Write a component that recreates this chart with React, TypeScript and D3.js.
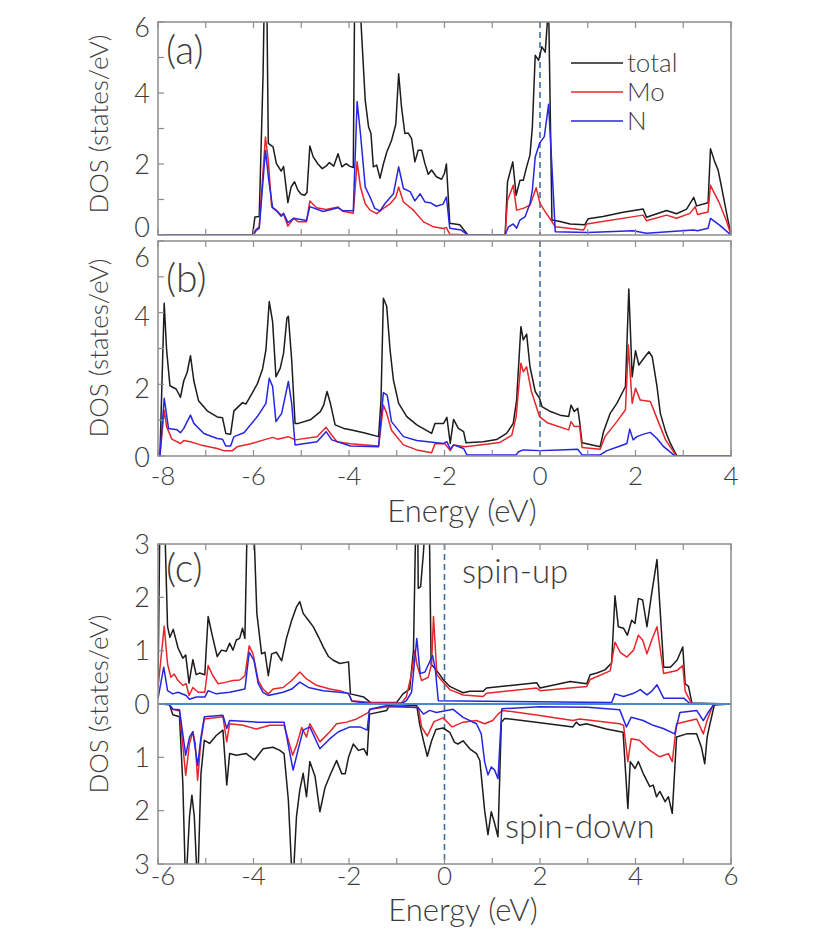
import React from "react";
import * as d3 from "d3";

type Pt = [number, number];

// panel (a): energy (eV), DOS (states/eV)
const aTotal: Pt[] = [[-8,0],[-6.02,0],[-5.97,0.51],[-5.88,0.52],[-5.8,4.5],[-5.77,7],[-5.72,6.5],[-5.69,2.58],[-5.59,2.48],[-5.52,2.01],[-5.42,1.8],[-5.37,1.93],[-5.28,0.91],[-5.21,1.36],[-5.14,1.5],[-5.07,1.26],[-5.0,1.15],[-4.93,1.12],[-4.88,1.2],[-4.82,2.51],[-4.75,2.2],[-4.65,2.0],[-4.56,1.87],[-4.48,1.94],[-4.41,2.04],[-4.32,1.94],[-4.23,2.29],[-4.15,1.92],[-4.06,2.01],[-3.99,1.94],[-3.91,1.9],[-3.88,7],[-3.79,7],[-3.66,3.79],[-3.59,3.04],[-3.54,2.86],[-3.49,1.92],[-3.42,1.97],[-3.35,1.6],[-3.28,2.0],[-3.21,2.33],[-3.11,2.66],[-3.02,3.12],[-2.96,4.54],[-2.9,3.6],[-2.83,2.86],[-2.76,2.87],[-2.69,2.72],[-2.62,2.06],[-2.55,2.39],[-2.48,2.39],[-2.41,2.01],[-2.34,1.71],[-2.27,1.83],[-2.17,1.64],[-2.06,1.57],[-2.0,1.74],[-1.96,2.0],[-1.89,0.33],[-1.68,0.29],[-1.51,0],[-0.73,0],[-0.68,1.5],[-0.57,2.06],[-0.5,1.12],[-0.42,1.54],[-0.35,1.54],[-0.28,1.92],[-0.21,2.25],[-0.16,3.04],[-0.1,5.06],[-0.03,4.92],[0.04,5.3],[0.11,5.15],[0.18,6.5],[0.25,0.42],[0.42,0.38],[0.63,0.31],[0.94,0.29],[1.01,0.46],[1.32,0.52],[1.74,0.64],[2.16,0.73],[2.23,0.5],[2.65,0.69],[2.86,0.6],[3.07,0.73],[3.22,1.06],[3.28,0.82],[3.52,0.91],[3.57,2.43],[3.66,2.06],[3.73,1.83],[3.78,1.5],[3.91,0.6],[4.0,0]];
const aMo: Pt[] = [[-8,0],[-6.02,0],[-5.96,0.14],[-5.88,0.23],[-5.75,2.76],[-5.69,2.1],[-5.62,0.79],[-5.52,0.7],[-5.42,0.56],[-5.37,0.59],[-5.28,0.25],[-5.16,0.47],[-5.06,0.37],[-4.89,0.37],[-4.82,0.96],[-4.68,0.77],[-4.48,0.72],[-4.23,0.79],[-4.13,0.67],[-3.91,0.61],[-3.83,2.06],[-3.76,1.35],[-3.66,0.88],[-3.56,0.7],[-3.42,0.6],[-3.28,0.75],[-3.14,0.88],[-3.02,1.07],[-2.96,1.35],[-2.86,0.93],[-2.65,0.7],[-2.44,0.37],[-2.23,0.23],[-2.03,0.18],[-1.96,0.21],[-1.89,0.02],[-1.5,0],[-0.73,0],[-0.68,0.98],[-0.56,1.4],[-0.49,0.7],[-0.35,0.75],[-0.21,0.84],[-0.08,1.33],[0.0,0.89],[0.11,0.65],[0.25,0.38],[0.32,0.23],[0.91,0.14],[0.98,0.31],[2.16,0.56],[2.23,0.4],[2.65,0.56],[2.86,0.47],[3.14,0.61],[3.25,0.8],[3.3,0.58],[3.52,0.65],[3.57,1.4],[3.76,0.89],[3.91,0.38],[4.0,0]];
const aN: Pt[] = [[-8,0],[-6.0,0],[-5.94,0.14],[-5.88,0.19],[-5.75,2.39],[-5.68,1.54],[-5.6,0.77],[-5.52,0.68],[-5.42,0.53],[-5.37,0.61],[-5.28,0.35],[-5.16,0.47],[-4.89,0.41],[-4.82,0.8],[-4.54,0.66],[-4.23,0.77],[-4.13,0.68],[-3.91,0.68],[-3.83,3.76],[-3.76,2.86],[-3.66,1.35],[-3.56,1.07],[-3.46,0.75],[-3.35,0.68],[-3.25,0.88],[-3.07,1.16],[-2.96,1.92],[-2.86,1.31],[-2.72,1.22],[-2.62,0.96],[-2.51,1.16],[-2.41,0.93],[-2.3,0.91],[-2.17,0.81],[-2.03,0.87],[-1.96,1.07],[-1.89,0.19],[-1.65,0.14],[-1.51,0],[-0.73,0],[-0.66,0.23],[-0.56,0.31],[-0.49,0.19],[-0.42,0.42],[-0.31,0.52],[-0.21,0.89],[-0.16,1.26],[-0.1,2.2],[-0.01,2.58],[0.09,2.77],[0.18,3.68],[0.25,1.92],[0.32,0.09],[1.0,0.07],[1.95,0.12],[2.23,0.05],[3.21,0.14],[3.3,0.12],[3.52,0.19],[3.57,0.47],[3.76,0.28],[4.0,0]];

// panel (b)
const bTotal: Pt[] = [[-8,0],[-7.96,0],[-7.87,4.26],[-7.82,2.96],[-7.75,1.96],[-7.62,1.87],[-7.53,1.64],[-7.46,2.1],[-7.39,2.33],[-7.32,2.8],[-7.25,2.1],[-7.15,1.54],[-6.97,1.26],[-6.76,1.09],[-6.65,1.07],[-6.58,0.63],[-6.48,0.61],[-6.41,1.26],[-6.3,1.4],[-6.23,1.49],[-6.16,1.45],[-6.06,1.68],[-5.92,2.01],[-5.81,2.43],[-5.74,2.96],[-5.67,4.31],[-5.6,3.75],[-5.53,2.21],[-5.44,2.45],[-5.37,2.87],[-5.3,3.85],[-5.27,3.9],[-5.2,2.68],[-5.13,0.91],[-5.06,0.91],[-4.81,1.01],[-4.6,1.24],[-4.53,1.42],[-4.46,1.8],[-4.39,1.47],[-4.29,0.87],[-4.11,0.77],[-3.97,0.73],[-3.69,0.65],[-3.38,0.54],[-3.33,1.56],[-3.28,4.4],[-3.21,4.17],[-3.14,2.96],[-3.07,2.12],[-2.96,1.47],[-2.79,1.1],[-2.58,0.87],[-2.27,0.63],[-2.2,0.91],[-2.02,0.91],[-1.95,1.08],[-1.88,0.35],[-1.81,1.02],[-1.71,0.77],[-1.6,0.68],[-1.55,0.37],[-1.19,0.4],[-0.91,0.46],[-0.7,0.63],[-0.56,0.91],[-0.49,1.56],[-0.4,3.61],[-0.35,3.24],[-0.28,3.4],[-0.21,2.49],[-0.1,1.8],[-0.01,1.61],[0.04,1.38],[0.22,1.24],[0.42,1.14],[0.6,1.1],[0.65,1.42],[0.72,1.24],[0.79,1.33],[0.83,0.96],[0.88,0.37],[1.26,0.26],[1.33,0.68],[1.47,1.19],[1.61,1.47],[1.79,1.94],[1.86,4.66],[1.93,2.21],[2.0,2.94],[2.07,2.54],[2.17,2.72],[2.28,2.91],[2.35,2.77],[2.45,1.94],[2.52,1.19],[2.63,0.68],[2.73,0.35],[2.84,0.07],[2.87,0],[4,0]];
const bMo: Pt[] = [[-8,0],[-7.96,0],[-7.87,1.28],[-7.82,0.82],[-7.71,0.47],[-7.53,0.35],[-7.46,0.43],[-7.32,0.4],[-7.11,0.31],[-6.76,0.21],[-6.62,0.15],[-6.44,0.15],[-6.34,0.26],[-6.06,0.34],[-5.78,0.45],[-5.6,0.52],[-5.5,0.47],[-5.27,0.54],[-5.13,0.45],[-4.67,0.54],[-4.48,0.8],[-4.36,0.58],[-4.25,0.4],[-3.97,0.34],[-3.38,0.28],[-3.28,1.42],[-3.21,1.19],[-3.11,0.72],[-2.86,0.31],[-2.58,0.17],[-2.27,0.09],[-2.2,0.34],[-1.99,0.34],[-1.88,0.15],[-1.81,0.31],[-1.57,0.26],[-1.26,0.31],[-0.84,0.38],[-0.59,0.58],[-0.5,1.1],[-0.4,2.59],[-0.35,2.35],[-0.28,2.49],[-0.18,1.8],[-0.01,1.1],[0.15,0.93],[0.6,0.73],[0.65,0.96],[0.72,0.82],[0.83,0.82],[0.88,0.24],[1.26,0.19],[1.36,0.54],[1.61,0.96],[1.79,1.29],[1.85,3.1],[1.93,1.47],[2.0,1.89],[2.1,1.56],[2.31,1.52],[2.45,1.05],[2.63,0.45],[2.84,0.03],[2.87,0],[4,0]];
const bN: Pt[] = [[-8,0],[-7.96,0],[-7.87,1.61],[-7.78,0.77],[-7.6,0.73],[-7.53,0.65],[-7.46,0.77],[-7.32,1.14],[-7.25,0.91],[-7.04,0.63],[-6.76,0.49],[-6.65,0.47],[-6.58,0.28],[-6.48,0.28],[-6.41,0.54],[-6.2,0.65],[-5.92,1.1],[-5.74,1.47],[-5.67,2.17],[-5.6,1.94],[-5.53,0.96],[-5.41,1.19],[-5.27,2.08],[-5.2,1.47],[-5.13,0.31],[-4.67,0.4],[-4.48,0.68],[-4.36,0.45],[-3.97,0.28],[-3.38,0.26],[-3.28,1.77],[-3.2,1.7],[-3.11,0.96],[-2.86,0.54],[-2.58,0.43],[-2.02,0.35],[-1.95,0.4],[-1.88,0.19],[-1.81,0.31],[-1.6,0.21],[-1.53,0.03],[-0.5,0.03],[-0.45,0.12],[-0.35,0.17],[0.0,0.15],[0.4,0.17],[0.79,0.19],[0.88,0.03],[1.26,0.03],[1.4,0.15],[1.68,0.28],[1.82,0.35],[1.88,0.75],[1.95,0.45],[2.03,0.54],[2.17,0.61],[2.31,0.66],[2.45,0.49],[2.59,0.26],[2.8,0.03],[2.87,0],[4,0]];

// panel (c), spin-up (positive)
const upTotal: Pt[] = [[-6,0.3],[-5.96,3.5],[-5.88,3.5],[-5.85,3.1],[-5.8,1.45],[-5.75,1.25],[-5.68,1.4],[-5.58,1.05],[-5.48,0.86],[-5.42,0.92],[-5.35,0.39],[-5.27,0.83],[-5.2,0.55],[-5.13,0.58],[-5.02,0.55],[-4.95,1.64],[-4.85,1.23],[-4.76,0.89],[-4.67,1.01],[-4.57,0.99],[-4.5,1.14],[-4.43,1.01],[-4.36,1.2],[-4.29,1.23],[-4.23,1.42],[-4.18,1.23],[-4.13,3.5],[-4.0,3.5],[-3.93,1.7],[-3.83,0.94],[-3.76,0.97],[-3.69,0.53],[-3.62,0.94],[-3.52,0.97],[-3.41,0.81],[-3.31,1.23],[-3.2,1.57],[-3.1,1.82],[-3.03,1.92],[-2.96,1.7],[-2.85,1.57],[-2.75,1.45],[-2.64,1.26],[-2.54,1.07],[-2.43,0.89],[-2.33,0.82],[-2.19,0.76],[-2.01,0.79],[-1.97,0.19],[-1.69,0.13],[-1.55,0.03],[-1.0,0.03],[-0.87,0.19],[-0.73,0.28],[-0.65,1.0],[-0.6,3.5],[-0.56,3.3],[-0.55,2.17],[-0.5,2.2],[-0.44,2.85],[-0.4,3.5],[-0.32,3.5],[-0.28,0.74],[-0.21,0.68],[-0.1,0.55],[-0.03,0.46],[0.11,0.33],[0.25,0.27],[0.39,0.21],[0.53,0.24],[0.81,0.24],[0.88,0.3],[1.93,0.4],[2.0,0.3],[2.63,0.42],[2.98,0.38],[3.05,0.55],[3.19,0.58],[3.36,0.64],[3.5,0.77],[3.57,2.03],[3.64,1.45],[3.75,1.42],[3.83,1.29],[3.92,1.57],[3.99,1.51],[4.06,1.98],[4.15,1.95],[4.24,1.45],[4.34,2.08],[4.45,2.71],[4.52,1.7],[4.59,0.69],[4.73,0.69],[4.87,0.82],[4.99,1.07],[5.04,0.38],[5.11,0.33],[5.18,0.02],[6,0]];
const upMo: Pt[] = [[-6,0.3],[-5.87,1.46],[-5.8,0.75],[-5.73,0.5],[-5.66,0.56],[-5.58,0.44],[-5.48,0.35],[-5.41,0.38],[-5.35,0.16],[-5.27,0.31],[-5.16,0.22],[-5.02,0.22],[-4.95,0.72],[-4.85,0.53],[-4.74,0.38],[-4.57,0.41],[-4.43,0.44],[-4.29,0.45],[-4.18,0.53],[-4.09,1.09],[-4.01,0.94],[-3.9,0.44],[-3.8,0.28],[-3.69,0.19],[-3.59,0.28],[-3.38,0.31],[-3.2,0.44],[-3.03,0.6],[-2.89,0.47],[-2.68,0.35],[-2.4,0.28],[-2.19,0.25],[-2.01,0.19],[-1.94,0.06],[-1.55,0.03],[-0.9,0.02],[-0.8,0.13],[-0.69,0.57],[-0.62,1.01],[-0.58,0.75],[-0.48,0.44],[-0.34,0.5],[-0.27,0.75],[-0.23,1.64],[-0.16,0.55],[-0.06,0.44],[0.11,0.27],[0.39,0.17],[0.81,0.14],[0.88,0.2],[1.93,0.3],[2.0,0.25],[2.98,0.33],[3.05,0.46],[3.47,0.62],[3.57,1.16],[3.68,0.97],[3.82,0.88],[3.96,1.01],[4.06,1.29],[4.15,1.2],[4.24,0.94],[4.34,1.2],[4.45,1.45],[4.59,0.57],[4.87,0.63],[4.99,0.72],[5.04,0.24],[5.18,0],[6,0]];
const upN: Pt[] = [[-6,0.1],[-5.88,0.69],[-5.8,0.25],[-5.69,0.19],[-5.58,0.22],[-5.41,0.16],[-5.34,0.09],[-5.2,0.13],[-5.02,0.13],[-4.95,0.25],[-4.78,0.19],[-4.5,0.22],[-4.18,0.28],[-4.09,0.97],[-3.99,0.82],[-3.9,0.38],[-3.8,0.22],[-3.69,0.16],[-3.38,0.22],[-3.2,0.28],[-3.03,0.41],[-2.85,0.31],[-2.54,0.25],[-2.19,0.22],[-2.01,0.2],[-1.94,0.05],[-1.55,0.01],[-0.9,0.01],[-0.8,0.06],[-0.69,0.22],[-0.58,1.23],[-0.51,0.57],[-0.41,0.6],[-0.25,0.91],[-0.19,0.63],[-0.13,0.06],[3.5,0.03],[3.57,0.19],[3.75,0.14],[3.96,0.2],[4.1,0.27],[4.24,0.17],[4.34,0.24],[4.45,0.36],[4.59,0.11],[5.01,0.11],[5.15,0],[6,0]];

// panel (c), spin-down (magnitudes, drawn below zero)
const downTotal: Pt[] = [[-6,0],[-5.76,0.01],[-5.69,0.2],[-5.55,0.24],[-5.48,1.49],[-5.42,3.5],[-5.34,2.11],[-5.29,1.71],[-5.24,2.11],[-5.17,3.5],[-5.1,1.3],[-5.03,0.68],[-4.92,0.74],[-4.78,0.59],[-4.64,0.49],[-4.56,1.52],[-4.5,0.93],[-4.36,0.96],[-4.15,0.93],[-3.98,1.05],[-3.8,0.84],[-3.59,0.81],[-3.45,0.87],[-3.36,0.93],[-3.27,1.8],[-3.18,3.5],[-3.1,2.11],[-3.03,1.61],[-2.96,1.3],[-2.89,1.74],[-2.82,1.08],[-2.71,1.36],[-2.61,2.02],[-2.5,1.56],[-2.4,1.34],[-2.26,1.06],[-2.15,1.31],[-2.08,1.31],[-2.01,1.0],[-1.91,0.75],[-1.8,0.87],[-1.69,0.84],[-1.62,0.96],[-1.57,0.19],[-1.21,0.12],[-1.14,0.01],[-0.58,0.03],[-0.52,0.38],[-0.44,0.69],[-0.36,0.98],[-0.27,0.69],[-0.18,0.48],[-0.03,0.45],[0.11,0.53],[0.21,0.72],[0.28,0.75],[0.39,0.69],[0.53,0.84],[0.67,0.93],[0.74,1.06],[0.84,1.99],[0.91,2.45],[0.98,2.02],[1.05,2.24],[1.12,2.49],[1.19,0.34],[1.26,0.27],[1.92,0.34],[2.69,0.43],[2.76,0.34],[2.83,0.4],[2.97,0.37],[3.39,0.47],[3.74,0.53],[3.84,1.96],[3.89,1.08],[3.99,1.21],[4.06,1.08],[4.16,1.3],[4.3,1.55],[4.37,1.52],[4.44,1.74],[4.51,1.64],[4.62,1.83],[4.69,1.74],[4.77,2.05],[4.86,0.62],[5.07,0.56],[5.28,0.56],[5.38,0.81],[5.45,1.12],[5.5,0.62],[5.56,0.37],[5.65,0.02],[6,0]];
const downMo: Pt[] = [[-6,0],[-5.76,0.01],[-5.69,0.1],[-5.55,0.13],[-5.42,1.34],[-5.34,0.74],[-5.27,0.52],[-5.22,0.74],[-5.17,1.43],[-5.1,0.68],[-5.03,0.28],[-4.64,0.24],[-4.56,0.71],[-4.5,0.37],[-4.22,0.4],[-3.94,0.47],[-3.66,0.4],[-3.36,0.4],[-3.27,0.68],[-3.18,0.96],[-3.1,0.78],[-2.99,0.44],[-2.89,0.62],[-2.82,0.37],[-2.61,0.71],[-2.4,0.52],[-2.26,0.37],[-2.05,0.34],[-1.84,0.28],[-1.6,0.16],[-1.55,0.1],[-1.2,0.05],[-0.55,0.06],[-0.48,0.43],[-0.36,0.6],[-0.22,0.33],[-0.03,0.26],[0.16,0.43],[0.39,0.34],[0.67,0.31],[0.84,0.37],[1.01,0.31],[1.12,0.19],[1.22,0.12],[1.96,0.21],[2.69,0.31],[2.83,0.28],[3.67,0.37],[3.75,0.4],[3.84,1.08],[3.91,0.65],[4.08,0.68],[4.3,0.87],[4.51,0.99],[4.69,0.93],[4.77,1.08],[4.86,0.37],[5.28,0.28],[5.42,0.56],[5.5,0.31],[5.63,0],[6,0]];
const downN: Pt[] = [[-6,0],[-5.76,0.01],[-5.69,0.1],[-5.55,0.11],[-5.42,0.96],[-5.34,0.62],[-5.27,0.52],[-5.17,1.15],[-5.1,0.62],[-5.03,0.24],[-4.64,0.21],[-4.56,0.46],[-4.5,0.31],[-3.94,0.34],[-3.36,0.34],[-3.27,0.78],[-3.17,1.24],[-3.07,0.87],[-2.96,0.49],[-2.82,0.43],[-2.61,0.84],[-2.4,0.65],[-2.22,0.52],[-1.98,0.43],[-1.77,0.43],[-1.62,0.49],[-1.57,0.1],[-1.2,0.03],[-0.55,0.07],[-0.44,0.19],[-0.31,0.12],[-0.17,0.16],[0.18,0.1],[0.39,0.25],[0.67,0.37],[0.77,0.56],[0.84,1.08],[0.91,1.33],[0.98,1.18],[1.05,1.24],[1.12,1.4],[1.2,0.09],[2.0,0.05],[3.0,0.06],[3.67,0.11],[3.81,0.43],[3.91,0.25],[4.16,0.31],[4.37,0.4],[4.58,0.46],[4.82,0.56],[4.93,0.16],[5.28,0.12],[5.42,0.31],[5.52,0.16],[5.65,0],[6,0]];

const energyTicksAB = [-8, -6, -4, -2, 0, 2, 4];
const energyTicksC = [-6, -4, -2, 0, 2, 4, 6];
const dosTicksAB = [0, 2, 4, 6];
const dosTicksC = [-3, -2, -1, 0, 1, 2, 3];
const legendNames = ["total", "Mo", "N"];
const colors = ["#1c1c1c", "#e6262b", "#2626e0"];

const FONT = "Lato, 'Open Sans', sans-serif";
const TXT = "#3c3c3c";
const FRAME = "#8c8c8c";
const LEFT = 158, RIGHT = 731;

function Panel(props: {
  id: string; xDomain: [number, number]; top: number; bottom: number;
  yDomain: [number, number]; series: { d: Pt[]; c: string; sign?: number }[];
  xTicks: number[]; yTicks: number[]; xLabelY?: number; zeroLine?: boolean;
  yLabelShift?: (v: number) => number;
}) {
  const { id, xDomain, top, bottom, yDomain, series } = props;
  const x = d3.scaleLinear().domain(xDomain).range([LEFT, RIGHT]);
  const y = d3.scaleLinear().domain(yDomain).range([bottom, top]);
  const minor = d3.range(Math.ceil(xDomain[0]), xDomain[1] + 0.001, 1);
  const yMinor = d3.range(yDomain[0], yDomain[1] + 0.001, 1);
  return (
    <g>
      <defs>
        <clipPath id={"clip-" + id}>
          <rect x={LEFT} y={top} width={RIGHT - LEFT} height={bottom - top} />
        </clipPath>
      </defs>
      <g clipPath={`url(#clip-${id})`}>
        <line x1={x(0)} x2={x(0)} y1={top} y2={bottom} stroke="#3f6f9f" strokeWidth={1.6} strokeDasharray="6,4" />
        {series.map((s, i) => {
          const ln = d3.line<Pt>().x((p) => x(p[0])).y((p) => y((s.sign ?? 1) * p[1]));
          return <path key={i} d={ln(s.d) || ""} fill="none" stroke={s.c} strokeWidth={1.5} strokeLinejoin="round" />;
        })}
        {props.zeroLine && <line x1={LEFT} x2={RIGHT} y1={y(0)} y2={y(0)} stroke="#4a88cc" strokeWidth={2} />}
      </g>
      {minor.map((t) => (
        <g key={"xt" + t}>
          <line x1={x(t)} x2={x(t)} y1={top} y2={top + 6} stroke={FRAME} strokeWidth={1.2} />
          <line x1={x(t)} x2={x(t)} y1={bottom} y2={bottom - 6} stroke={FRAME} strokeWidth={1.2} />
        </g>
      ))}
      {yMinor.map((t) => (
        <line key={"yt" + t} x1={LEFT} x2={LEFT + 6} y1={y(t)} y2={y(t)} stroke={FRAME} strokeWidth={1.2} />
      ))}
      <rect x={LEFT} y={top} width={RIGHT - LEFT} height={bottom - top} fill="none" stroke={FRAME} strokeWidth={1.5} />
      {props.yTicks.map((t) => (
        <text key={"yl" + t} x={150} y={y(t) + (props.yLabelShift ? props.yLabelShift(t) : 0)} dy="0.36em" textAnchor="end"
          fontFamily={FONT} fontWeight={300} fontSize={27} fill={TXT}>{Math.abs(t)}</text>
      ))}
      {props.xLabelY !== undefined && props.xTicks.map((t, i) => (
        <text key={"xl" + t} x={x(t) + (i === 0 ? 5 : 0)} y={props.xLabelY} textAnchor="middle"
          fontFamily={FONT} fontWeight={300} fontSize={26} fill={TXT}>{t}</text>
      ))}
    </g>
  );
}

export default function App() {
  const yTitle = (cy: number) => (
    <text transform={`translate(99,${cy}) rotate(-90)`} textAnchor="middle" dy="0.35em"
      fontFamily={FONT} fontWeight={300} fontSize={26} fill={TXT}>DOS (states/eV)</text>
  );
  return (
    <svg width={838} height={934} style={{ position: "absolute", left: 0, top: 0, background: "#fff" }}>
      <Panel id="a" xDomain={[-8, 4]} top={22} bottom={235} yDomain={[0, 6]}
        series={[{ d: aTotal, c: colors[0] }, { d: aMo, c: colors[1] }, { d: aN, c: colors[2] }]}
        xTicks={energyTicksAB} yTicks={dosTicksAB}
        yLabelShift={(v) => (v === 0 ? -8 : v === 6 ? 5 : 0)} />
      <Panel id="b" xDomain={[-8, 4]} top={241} bottom={456} yDomain={[0, 6]}
        series={[{ d: bTotal, c: colors[0] }, { d: bMo, c: colors[1] }, { d: bN, c: colors[2] }]}
        xTicks={energyTicksAB} yTicks={dosTicksAB} xLabelY={485}
        yLabelShift={(v) => (v === 6 ? 16 : v === 0 ? 1 : 4)} />
      <Panel id="c" xDomain={[-6, 6]} top={544} bottom={864} yDomain={[-3, 3]}
        series={[
          { d: upTotal, c: colors[0] }, { d: upMo, c: colors[1] }, { d: upN, c: colors[2] },
          { d: downTotal, c: colors[0], sign: -1 }, { d: downMo, c: colors[1], sign: -1 }, { d: downN, c: colors[2], sign: -1 },
        ]}
        xTicks={energyTicksC} yTicks={dosTicksC} xLabelY={885} zeroLine={true} />

      {yTitle(124)}
      {yTitle(348)}
      {yTitle(704)}
      <text x={462} y={522} textAnchor="middle" fontFamily={FONT} fontWeight={300} fontSize={31} fill={TXT}>Energy (eV)</text>
      <text x={463} y={921} textAnchor="middle" fontFamily={FONT} fontWeight={300} fontSize={31} fill={TXT}>Energy (eV)</text>

      <text x={166} y={64} fontFamily={FONT} fontWeight={300} fontSize={39} fill={TXT}>(a)</text>
      <text x={166} y={292} fontFamily={FONT} fontWeight={300} fontSize={39} fill={TXT}>(b)</text>
      <text x={166} y={582} fontFamily={FONT} fontWeight={300} fontSize={39} fill={TXT}>(c)</text>
      <text x={462} y={583} fontFamily={FONT} fontWeight={300} fontSize={33} fill={TXT}>spin-up</text>
      <text x={505} y={838} fontFamily={FONT} fontWeight={300} fontSize={33} fill={TXT}>spin-down</text>

      {legendNames.map((n, i) => (
        <g key={n}>
          <line x1={571} x2={623} y1={63 + i * 29} y2={63 + i * 29} stroke={colors[i]} strokeWidth={1.6} />
          <text x={627} y={63 + i * 29} dy="0.36em" fontFamily={FONT} fontWeight={300} fontSize={26} fill={TXT}>{n}</text>
        </g>
      ))}
    </svg>
  );
}
